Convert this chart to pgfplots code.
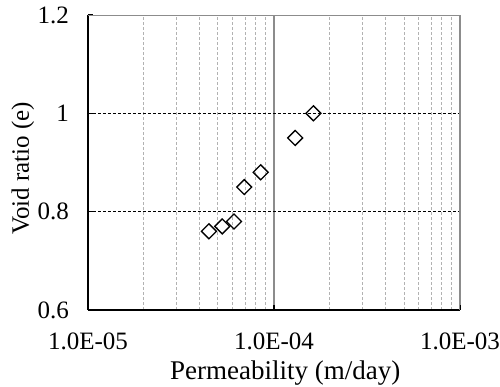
\documentclass[border=0pt]{standalone}
\usepackage{pgfplots}
\pgfplotsset{compat=1.18}
\usepackage{fontspec}
\setmainfont{Liberation Serif}
\begin{document}
\begin{tikzpicture}
\useasboundingbox (0,0) rectangle (500pt,387pt);
\begin{axis}[
  at={(88pt,77pt)}, anchor=south west,
  scale only axis, width=372pt, height=295pt,
  xmode=log, log basis x=10,
  xmin=1e-5, xmax=1e-3, ymin=0.6, ymax=1.2,
  axis x line*=bottom, axis y line*=left,
  axis line style={black, line width=1.3pt, -},
  xtick={1e-5,1e-4,1e-3}, xticklabels={1.0E-05,1.0E-04,1.0E-03},
  minor xtick={2e-5,3e-5,4e-5,5e-5,6e-5,7e-5,8e-5,9e-5,2e-4,3e-4,4e-4,5e-4,6e-4,7e-4,8e-4,9e-4},
  ytick={0.6,0.8,1,1.2}, yticklabels={0.6,0.8,1,1.2},
  tick align=inside, major tick length=5pt, minor tick length=0pt,
  tick style={black, line width=1.3pt},
  xmajorgrids, xminorgrids,
  major x grid style={black!45, line width=1.2pt},
  minor x grid style={black!30, line width=1pt, dash pattern=on 3pt off 2pt},
  extra y ticks={0.8,1}, extra y tick labels={},
  extra y tick style={grid=major, major grid style={black, line width=1.4pt, dash pattern=on 3pt off 2pt}},
  ticklabel style={font=\fontsize{25}{30}\selectfont, inner sep=0pt},
  xticklabel style={anchor=base, yshift=-40pt},
  yticklabel style={anchor=east, xshift=-19pt},
  xlabel={Permeability (m/day)},
  ylabel={Void ratio (e)},
  xlabel style={at={(axis description cs:0.53,-0.237)}, anchor=base, inner sep=0pt, font=\fontsize{27}{32}\selectfont},
  ylabel style={at={(axis description cs:-0.1586,0.48)}, anchor=base, inner sep=0pt, font=\fontsize{25}{30}\selectfont},
]
\draw[black!45, line width=1.2pt] (rel axis cs:0,1) -- (rel axis cs:1,1) -- (rel axis cs:1,0);
\addplot[only marks, mark=square, mark size=5.3pt, mark options={rotate=45, draw=black, fill=white, line width=1.3pt}]
  coordinates {
  (4.47e-5,0.76) (5.27e-5,0.77) (6.10e-5,0.78) (6.92e-5,0.85)
  (8.48e-5,0.88) (1.30e-4,0.95) (1.63e-4,1.00)
  };
\end{axis}
\end{tikzpicture}
\end{document}
